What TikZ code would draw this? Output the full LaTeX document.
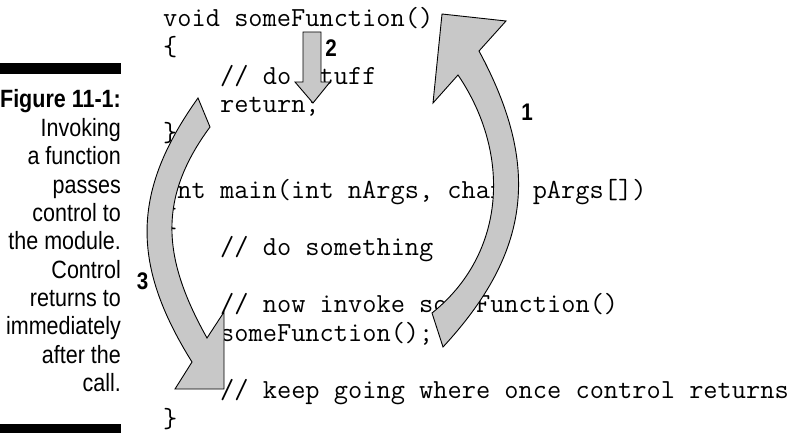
\documentclass[tikz,border=0pt]{standalone}
\usepackage{fontspec}
\newfontfamily\capfont[FakeStretch=0.86]{Liberation Sans}
\definecolor{arrowgray}{RGB}{200,200,200}
\tikzset{
  codeline/.style={anchor=base west, inner sep=0pt, font=\ttfamily\fontsize{27.6}{30}\selectfont},
  capline/.style={anchor=base east, inner sep=0pt, font=\capfont\fontsize{25}{28}\selectfont},
  capbold/.style={capline, font=\capfont\bfseries\fontsize{25}{28}\selectfont},
  stepnum/.style={inner sep=0pt, font=\capfont\bfseries\fontsize{24}{26}\selectfont},
  flowarrow/.style={fill=arrowgray, draw=black, line width=0.9pt, line join=miter},
  rulebar/.style={fill=black, draw=none}
}
\begin{document}
\begin{tikzpicture}[x=1pt, y=-1pt]
\useasboundingbox (0,0) rectangle (797,433);

% caption column
\fill[rulebar] (0,63) rectangle (121,74);
\fill[rulebar] (0,424) rectangle (121,435);
\node[capbold] (fig) at (121,108) {Figure 11-1:};
\node[capline] (c1) at (121,136.35) {Invoking};
\node[capline] (c2) at (121,164.7) {a function};
\node[capline] (c3) at (121,193.05) {passes};
\node[capline] (c4) at (121,221.4) {control to};
\node[capline] (c5) at (121,249.75) {the module.};
\node[capline] (c6) at (121,278.1) {Control};
\node[capline] (c7) at (121,306.45) {returns to};
\node[capline] (c8) at (121,334.8) {immediately};
\node[capline] (c9) at (121,363.15) {after the};
\node[capline] (c10) at (121,391.5) {call.};

% program listing
\node[codeline] (l0)  at (163,27)    {void someFunction()};
\node[codeline] (l1)  at (163,55.6)  {\{};
\node[codeline] (l2)  at (220,84.1)  {// do stuff};
\node[codeline] (l3)  at (220,112.7) {return;};
\node[codeline] (l4)  at (163,141.3) {\}};
\node[codeline] (l6)  at (163,198.4) {int main(int nArgs, char* pArgs[])};
\node[codeline] (l7)  at (163,227)   {\{};
\node[codeline] (l8)  at (220,255.6) {// do something};
\node[codeline] (l10) at (220,312.7) {// now invoke someFunction()};
\node[codeline] (l11) at (220,341.3) {someFunction();};
\node[codeline] (l13) at (220,398.4) {// keep going where once control returns};
\node[codeline] (l14) at (163,427)   {\}};

% step 1: call jumps up into the function
\draw[flowarrow] (443,347) .. controls (531.4,251.5) and (540.7,165.6) .. (479,51)
  -- (506,21) -- (442,14) -- (433,103) -- (458,75)
  .. controls (511.4,153.7) and (506.2,253.6) .. (432,313) -- cycle;

% step 2: execution runs down through the function body
\draw[flowarrow] (303,32) -- (321,32) -- (321,82) -- (330,82) -- (313,103)
  -- (295,82) -- (303,82) -- cycle;

% step 3: return to the statement after the call
\draw[flowarrow] (198,98) .. controls (131.2,191.6) and (131,264.4) .. (192,362)
  -- (175,389) -- (224,389) -- (224,312) -- (207,338)
  .. controls (163,259.4) and (156.5,199.4) .. (210,127) -- cycle;

% step numbers
\node[stepnum] (n1) at (527,112) {1};
\node[stepnum] (n2) at (331,48) {2};
\node[stepnum] (n3) at (142.5,281.5) {3};
\end{tikzpicture}
\end{document}
